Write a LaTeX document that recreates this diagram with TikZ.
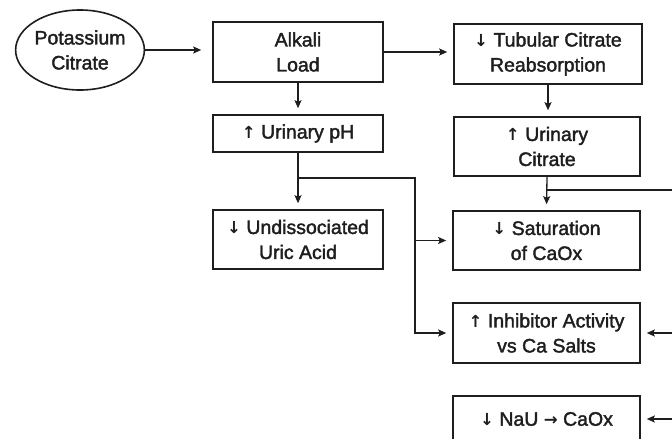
\documentclass[tikz,border=0pt]{standalone}
\usepackage{fontspec}
\setmainfont[FakeBold=1.8]{Liberation Sans}
\newfontfamily\arrfont{DejaVu Sans Bold}[Scale=0.85]
\newcommand{\dnar}{{\arrfont ↓}}
\newcommand{\upar}{{\arrfont ↑}}
\newcommand{\rtar}{{\arrfont →}}
\usetikzlibrary{arrows.meta,shapes.geometric}
\definecolor{ink}{HTML}{1E1E1E}
\begin{document}
\begin{tikzpicture}[x=1pt,y=-1pt,
  txt/.style={align=center,inner sep=0pt,text=ink,font=\fontsize{19.5}{25}\selectfont},
  box/.style={txt,draw=ink,line width=1.6pt,rectangle},
  oval/.style={txt,draw=ink,line width=1.6pt,ellipse},
  conn/.style={draw=ink,line width=1.3pt,-{Stealth[length=8pt,width=7pt,inset=1.5pt]},shorten >=6pt},
  plain/.style={draw=ink,line width=1.3pt}]
\useasboundingbox (0,0) rectangle (672,439);
\clip (0,0) rectangle (672,439);
\fill[white] (0,0) rectangle (672,439);
% nodes
\node[oval,minimum width=128pt,minimum height=80pt] (pot) at (80,50) {Potassium\\Citrate};
\node[box,minimum width=170pt,minimum height=60pt] (alk) at (298,52) {Alkali\\Load};
\node[box,minimum width=188pt,minimum height=60pt] (tub) at (548,54) {\dnar{} Tubular Citrate\\Reabsorption};
\node[box,minimum width=170pt,minimum height=37pt] (ph) at (298,133.5) {\upar{} Urinary pH};
\node[box,minimum width=186pt,minimum height=59pt] (cit) at (547,146.5) {\upar{} Urinary\\Citrate};
\node[box,minimum width=170pt,minimum height=59pt] (und) at (298,239.5) {\dnar{} Undissociated\\Uric Acid};
\node[box,minimum width=187pt,minimum height=59pt] (sat) at (546.5,240.5) {\dnar{} Saturation\\of CaOx};
\node[box,minimum width=187pt,minimum height=60pt] (inh) at (546.5,333) {\upar{} Inhibitor Activity\\vs Ca Salts};
\node[box,minimum width=187pt,minimum height=46pt] (nau) at (546.5,419) {\dnar{} NaU \rtar{} CaOx};
% junctions
\coordinate (j1) at (298,178);
\coordinate (bus) at (415,178);
\coordinate (j2) at (547,190);
\coordinate (rbus) at (690,190);
% connectors
\draw[conn,shorten >=11pt] (pot.east) -- (pot.east -| alk.west);
\draw[conn] (alk.east) -- (alk.east -| tub.west);
\draw[conn] (alk.south) -- (ph.north);
\draw[conn] (tub.south) -- (tub.south |- cit.north);
\draw[conn] (ph.south) -- (und.north);
\draw[conn] (cit.south) -- (sat.north);
\draw[conn] (j1) -- (bus) |- (inh.west);
\draw[conn] (bus |- sat.west) -- (sat.west);
\draw[plain] (j2) -- (rbus) -- (rbus |- nau.east);
\draw[conn] (rbus |- inh.east) -- (inh.east);
\draw[conn] (rbus |- nau.east) -- (nau.east);
\end{tikzpicture}
\end{document}
